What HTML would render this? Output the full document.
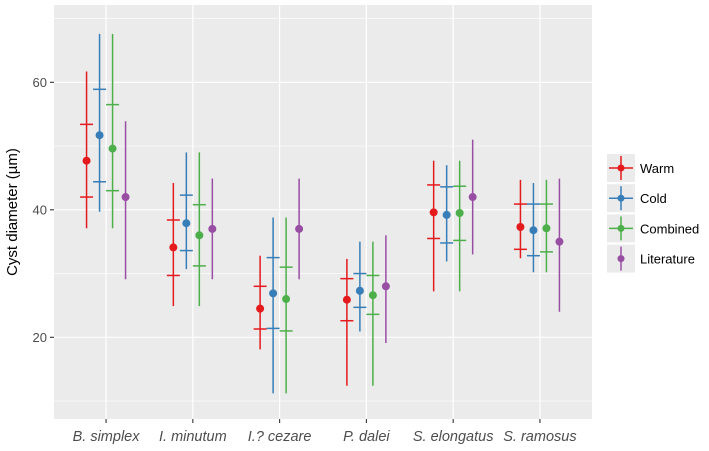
<!DOCTYPE html>
<html><head><meta charset="utf-8"><style>
body{margin:0;background:#fff;}
svg text{font-family:"Liberation Sans",Arial,sans-serif;}
</style></head><body>
<svg id="chart" width="709" height="446" xmlns="http://www.w3.org/2000/svg"></svg>
<script>
const categories=["B. simplex","I. minutum","I.? cezare","P. dalei","S. elongatus","S. ramosus"];
const seriesNames=["Warm","Cold","Combined","Literature"];
const colors=["#E41A1C","#377EB8","#4DAF4A","#984EA3"];
const pointVals=[[47.7,51.7,49.6,42.0],[34.1,37.9,36.0,37.0],[24.5,26.9,26.0,37.0],[25.9,27.3,26.6,28.0],[39.6,39.2,39.5,42.0],[37.3,36.8,37.1,35.0]];
const whiskerHi=[[61.7,67.6,67.6,53.9],[44.2,49.0,49.0,44.9],[32.8,38.8,38.8,44.9],[32.3,35.0,35.0,36.0],[47.7,47.0,47.7,51.0],[44.7,44.2,44.7,44.9]];
const whiskerLo=[[37.1,39.7,37.1,29.1],[24.9,30.7,24.9,29.1],[18.1,11.2,11.2,29.1],[12.4,20.9,12.4,19.1],[27.2,31.9,27.2,33.0],[32.4,30.2,30.2,24.0]];
const capHi=[[53.4,58.9,56.5,null],[38.4,42.3,40.8,null],[28.0,32.5,31.0,null],[29.2,30.0,29.7,null],[43.9,43.6,43.7,null],[40.9,40.9,40.9,null]];
const capLo=[[42.0,44.4,43.0,null],[29.7,33.6,31.2,null],[21.3,21.4,21.0,null],[22.6,24.7,23.6,null],[35.5,34.8,35.2,null],[33.8,32.8,33.4,null]];
const yTicks=[20,40,60];
const yMinor=[10,30,50,70];

const svg=document.getElementById('chart');
const NS="http://www.w3.org/2000/svg";
function mk(tag,attrs,parent){const e=document.createElementNS(NS,tag);for(const k in attrs)e.setAttribute(k,attrs[k]);(parent||svg).appendChild(e);return e;}
const pL=54,pR=592,pT=5,pB=419;
const y=v=>337.3-(v-20)*6.375;
const step=(pR-pL)/(categories.length-1+1.2);
const x=i=>pL+step*(i+0.6);
const dodge=13;

const panel=mk('rect',{x:pL,y:pT,width:pR-pL,height:pB-pT,fill:'#EBEBEB'});


yMinor.forEach(v=>{const l=mk('line',{x1:pL,x2:pR,y1:y(v),y2:y(v),stroke:'#fff','stroke-width':0.6});

});
yTicks.forEach(v=>{const l=mk('line',{x1:pL,x2:pR,y1:y(v),y2:y(v),stroke:'#fff','stroke-width':1.2});


const t=mk('line',{x1:pL-4,x2:pL,y1:y(v),y2:y(v),stroke:'#333','stroke-width':1.1});


const tx=mk('text',{x:pL-7,y:y(v)+4.5,'text-anchor':'end','font-size':13,fill:'#4D4D4D'});tx.textContent=v;

});
categories.forEach((c,i)=>{const l=mk('line',{x1:x(i),x2:x(i),y1:pT,y2:pB,stroke:'#fff','stroke-width':1.2});


const t=mk('line',{x1:x(i),x2:x(i),y1:pB,y2:pB+4,stroke:'#333','stroke-width':1.1});


const tx=mk('text',{x:x(i),y:pB+22,'text-anchor':'middle','font-size':14.5,'font-style':'italic',fill:'#4D4D4D'});tx.textContent=c;

});
categories.forEach((c,i)=>{seriesNames.forEach((s,j)=>{
 const cx=x(i)+(j-1.5)*dodge,col=colors[j];
 const g=mk('g',{});
 
 
 mk('line',{x1:cx,x2:cx,y1:y(whiskerHi[i][j]),y2:y(whiskerLo[i][j]),stroke:col,'stroke-width':1.5},g);
 if(capHi[i][j]!=null){mk('line',{x1:cx-6.5,x2:cx+6.5,y1:y(capHi[i][j]),y2:y(capHi[i][j]),stroke:col,'stroke-width':1.5},g);
 mk('line',{x1:cx-6.5,x2:cx+6.5,y1:y(capLo[i][j]),y2:y(capLo[i][j]),stroke:col,'stroke-width':1.5},g);}
 mk('circle',{cx:cx,cy:y(pointVals[i][j]),r:4,fill:col},g);
});});
const yt=mk('text',{transform:'translate(17,212) rotate(-90)','text-anchor':'middle','font-size':15,fill:'#000'});yt.textContent='Cyst diameter (µm)';


seriesNames.forEach((s,j)=>{const cy=168+j*30.2;
 const g=mk('g',{});
 
 
 mk('rect',{x:607,y:cy-14,width:28,height:28,fill:'#EBEBEB'},g);
 mk('line',{x1:621,x2:621,y1:cy-12,y2:cy+12,stroke:colors[j],'stroke-width':1.5},g);
 if(j<3)mk('line',{x1:609,x2:633,y1:cy,y2:cy,stroke:colors[j],'stroke-width':1.5},g);
 mk('circle',{cx:621,cy:cy,r:3.5,fill:colors[j]},g);
 const t=mk('text',{x:640,y:cy+5,'font-size':13,fill:'#000'},g);t.textContent=s;});
</script>
</body></html>
